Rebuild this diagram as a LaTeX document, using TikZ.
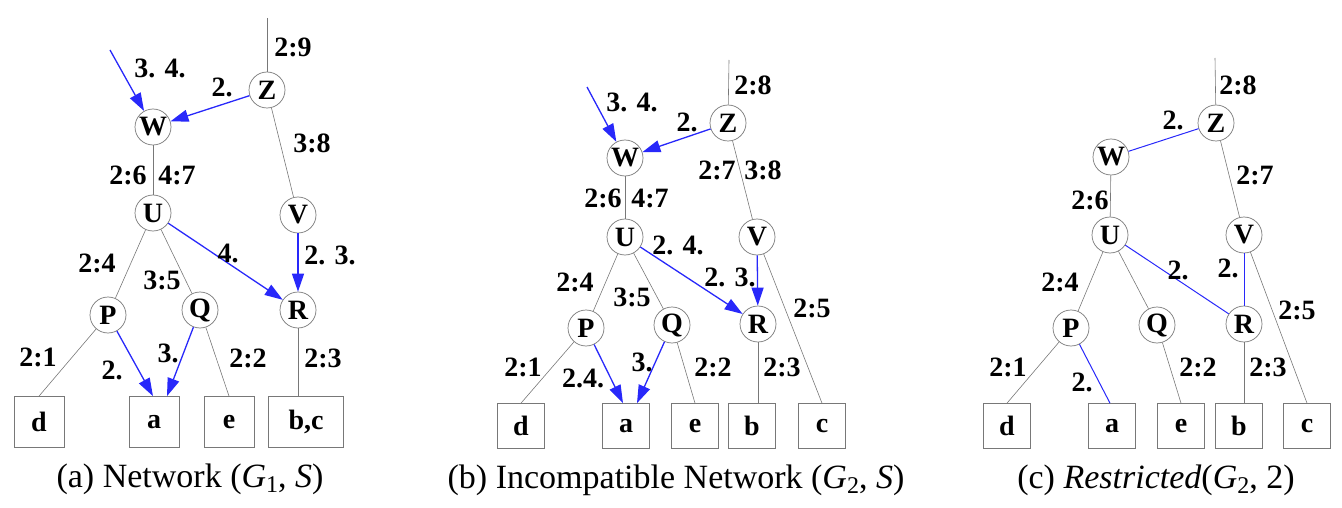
\documentclass[tikz,border=0pt]{standalone}
\usepackage{fontspec}
\setmainfont{Liberation Serif}
\usetikzlibrary{arrows.meta,calc}
\definecolor{eblue}{RGB}{40,40,250}
\definecolor{egray}{RGB}{120,120,120}
\newcommand{\mysub}[1]{\raisebox{-0.35ex}{\fontsize{24}{24}\selectfont #1}}
\begin{document}
\begin{tikzpicture}[x=1pt,y=-1pt,
  vert/.style={circle,draw=egray,line width=0.7pt,minimum size=36pt,inner sep=0pt,font=\fontsize{28}{28}\selectfont\bfseries},
  leaf/.style={rectangle,draw=egray,line width=0.7pt,minimum width=47pt,minimum height=45pt,inner sep=0pt,font=\fontsize{28}{28}\selectfont\bfseries},
  lab/.style={inner sep=0pt,font=\fontsize{28}{28}\selectfont\bfseries},
  captxt/.style={inner sep=0pt,font=\fontsize{34}{34}\selectfont},
  tree/.style={draw=egray,line width=0.6pt},
  barc/.style={draw=eblue,line width=1.3pt,-{Triangle[length=18pt,width=12pt]}},
  bline/.style={draw=eblue,line width=1pt}]
\useasboundingbox (0,0) rectangle (1342,508);
% ---------------- panel (a)
\node[vert] (aZ) at (267,90) {Z};
\node[vert] (aW) at (153,127) {W};
\node[vert] (aU) at (153,213) {U};
\node[vert] (aV) at (298,215) {V};
\node[vert] (aP) at (108,315) {P};
\node[vert] (aQ) at (200,310) {Q};
\node[vert] (aR) at (298,310) {R};
\node[leaf,minimum width=50pt,minimum height=51pt] (ad) at (39,422) {d};
\node[leaf,minimum width=50pt,minimum height=51pt] (aa) at (154,422) {a};
\node[leaf,minimum width=50pt,minimum height=51pt] (ae) at (229,422) {e};
\node[leaf,minimum width=75pt,minimum height=51pt] (abc) at (306,422) {b,c};
\coordinate (aT) at (267,18);
\coordinate (aIn) at (110,50);
\draw[tree] (aT) -- (aZ);
\draw[tree] (aZ) -- (aV);
\draw[tree] (aW) -- (aU);
\draw[tree] (aU) -- (aP);
\draw[tree] (aU) -- (aQ);
\draw[tree] (aP) -- (ad.north);
\draw[tree] (aQ) -- (ae.north);
\draw[tree] (aR) -- (aR |- abc.north);
\draw[barc] (aIn) -- (aW);
\draw[barc] (aZ) -- (aW);
\draw[barc] (aU) -- (aR);
\draw[barc] (aV) -- (aR);
\draw[barc] (aP) -- ($(aa.north)+(-1,0)$);
\draw[barc] (aQ) -- ($(aa.north)+(13,0)$);
\node[lab] (la1) at (293,47) {2:9};
\node[lab] (la2) at (160,68) {3. 4.};
\node[lab] (la3) at (222,87) {2.};
\node[lab] (la4) at (312,143) {3:8};
\node[lab] (la5) at (128,175) {2:6};
\node[lab] (la6) at (177,175) {4:7};
\node[lab] (la7) at (97,263) {2:4};
\node[lab] (la8) at (162,280) {3:5};
\node[lab] (la9) at (228,253) {4.};
\node[lab] (la10) at (330,255) {2. 3.};
\node[lab] (la11) at (38,357) {2:1};
\node[lab] (la12) at (112,370) {2.};
\node[lab] (la13) at (168,353) {3.};
\node[lab] (la14) at (248,358) {2:2};
\node[lab] (la15) at (323,358) {2:3};
\node[captxt] (capa) at (190,479) {(a) Network (\textit{G}\mysub{1}, \textit{S})};
% ---------------- panel (b)
\node[vert] (bZ) at (728,123) {Z};
\node[vert] (bW) at (625,158) {W};
\node[vert] (bU) at (625,237) {U};
\node[vert] (bV) at (757,237) {V};
\node[vert] (bP) at (586,328) {P};
\node[vert] (bQ) at (672,325) {Q};
\node[vert] (bR) at (758,324) {R};
\node[leaf] (bd) at (521,426) {d};
\node[leaf] (ba) at (626,426) {a};
\node[leaf] (be) at (695,426) {e};
\node[leaf] (bb) at (752,426) {b};
\node[leaf] (bc) at (822,426) {c};
\coordinate (bT) at (729,60);
\coordinate (bIn) at (587,87);
\draw[tree] (bT) -- (bZ);
\draw[tree] (bZ) -- (bV);
\draw[tree] (bW) -- (bU);
\draw[tree] (bU) -- (bP);
\draw[tree] (bU) -- (bQ);
\draw[tree] (bV) -- (bc.north);
\draw[tree] (bP) -- (bd.north);
\draw[tree] (bQ) -- (be.north);
\draw[tree] (bR) -- (bR |- bb.north);
\draw[barc] (bIn) -- (bW);
\draw[barc] (bZ) -- (bW);
\draw[barc] (bU) -- (bR);
\draw[barc] (bV) -- (bR);
\draw[barc] (bP) -- ($(ba.north)+(-3,0)$);
\draw[barc] (bQ) -- ($(ba.north)+(11,0)$);
\node[lab] (lb1) at (753,85) {2:8};
\node[lab] (lb2) at (632,102) {3. 4.};
\node[lab] (lb3) at (687,122) {2.};
\node[lab] (lb4) at (717,170) {2:7};
\node[lab] (lb5) at (763,170) {3:8};
\node[lab] (lb6) at (603,198) {2:6};
\node[lab] (lb7) at (650,198) {4:7};
\node[lab] (lb8) at (678,245) {2. 4.};
\node[lab] (lb9) at (575,282) {2:4};
\node[lab] (lb10) at (632,297) {3:5};
\node[lab] (lb11) at (730,277) {2. 3.};
\node[lab] (lb12) at (812,308) {2:5};
\node[lab] (lb13) at (523,367) {2:1};
\node[lab] (lb14) at (583,378) {2.4.};
\node[lab] (lb15) at (642,362) {3.};
\node[lab] (lb16) at (713,367) {2:2};
\node[lab] (lb17) at (782,367) {2:3};
\node[captxt] (capb) at (676,480) {(b) Incompatible Network (\textit{G}\mysub{2}, \textit{S})};
% ---------------- panel (c)
\node[vert] (cZ) at (1216,123) {Z};
\node[vert] (cW) at (1111,157) {W};
\node[vert] (cU) at (1110,235) {U};
\node[vert] (cV) at (1244,235) {V};
\node[vert] (cP) at (1071,328) {P};
\node[vert] (cQ) at (1157,325) {Q};
\node[vert] (cR) at (1244,324) {R};
\node[leaf] (cd) at (1007,426) {d};
\node[leaf] (ca) at (1112,426) {a};
\node[leaf] (ce) at (1181,426) {e};
\node[leaf] (cb) at (1239,426) {b};
\node[leaf] (cc) at (1307,426) {c};
\coordinate (cT) at (1215,58);
\draw[tree] (cT) -- (cZ);
\draw[tree] (cZ) -- (cV);
\draw[tree] (cW) -- (cU);
\draw[tree] (cU) -- (cP);
\draw[tree] (cU) -- (cQ);
\draw[tree] (cV) -- (cc.north);
\draw[tree] (cP) -- (cd.north);
\draw[tree] (cQ) -- (ce.north);
\draw[tree] (cR) -- (cR |- cb.north);
\draw[bline] (cZ) -- (cW);
\draw[bline] (cU) -- (cR);
\draw[bline] (cV) -- (cR);
\draw[bline] (cP) -- ($(ca.north)+(-2,0)$);
\node[lab] (lc1) at (1238,85) {2:8};
\node[lab] (lc2) at (1173,120) {2.};
\node[lab] (lc3) at (1255,175) {2:7};
\node[lab] (lc4) at (1090,200) {2:6};
\node[lab] (lc5) at (1060,282) {2:4};
\node[lab] (lc6) at (1178,270) {2.};
\node[lab] (lc7) at (1228,268) {2.};
\node[lab] (lc8) at (1297,310) {2:5};
\node[lab] (lc9) at (1008,367) {2:1};
\node[lab] (lc10) at (1082,382) {2.};
\node[lab] (lc11) at (1198,367) {2:2};
\node[lab] (lc12) at (1268,367) {2:3};
\node[captxt] (capc) at (1156,480) {(c) \textit{Restricted}(\textit{G}\mysub{2}, 2)};
\end{tikzpicture}
\end{document}
